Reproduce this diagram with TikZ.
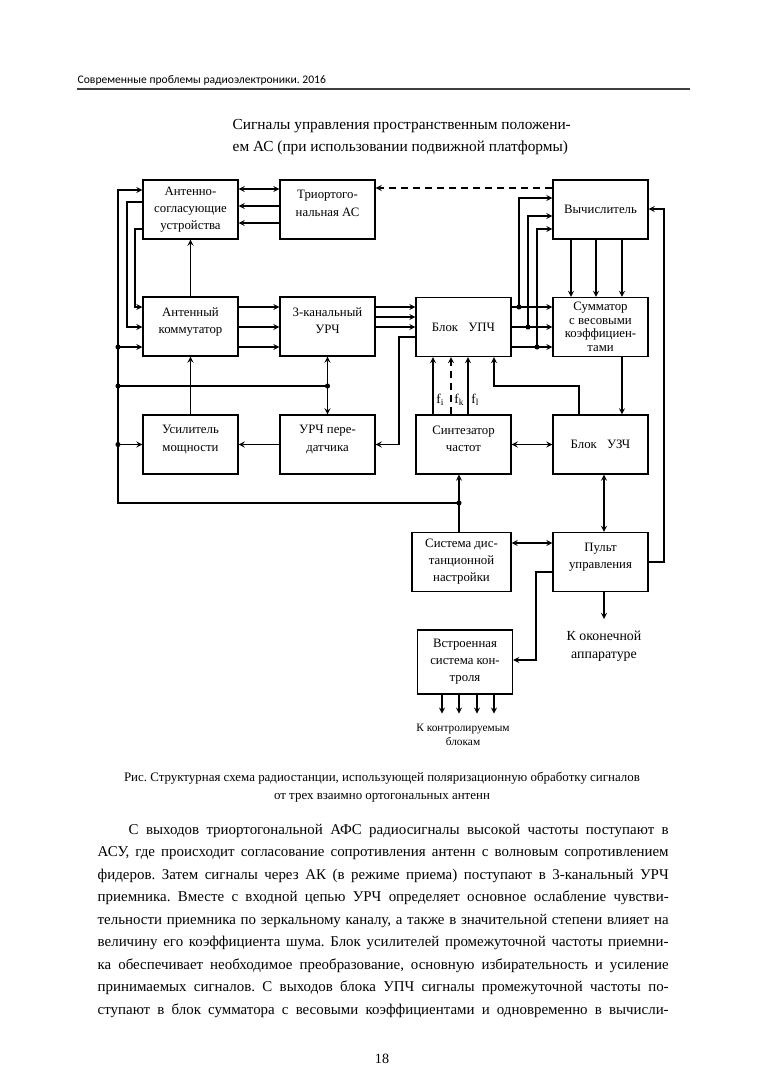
\documentclass[tikz,border=0pt]{standalone}
\usepackage{fontspec}
\setmainfont{Liberation Serif}
\newfontfamily\hdrfont{Carlito}
\frenchspacing
\newcommand{\liftup}{\\[-3.5pt]\mbox{}}

\tikzset{
  blk/.style={draw, minimum width=71pt, minimum height=44pt, align=center,
    inner sep=1pt, font=\fontsize{9.6}{12.8}\selectfont},
  flab/.style={right, inner sep=2pt, font=\fontsize{10}{12}\selectfont},
  dsh/.style={dash pattern=on 5.5pt off 3.5pt},
  bodyln/.style={anchor=base west, inner sep=0pt, font=\fontsize{11.2}{12}\selectfont},
}

\begin{document}
\begin{tikzpicture}[x=0.75pt, y=-0.75pt, >=stealth, line width=1.05pt]
    \useasboundingbox (0,0) rectangle (764,1080);
    \fill[white] (0,0) rectangle (764,1080);

    % header
    \node[anchor=base west, inner sep=0pt, font=\hdrfont\fontsize{8.7}{10}\selectfont] (hdr) at (77,84)
        {Современные проблемы радиоэлектроники. 2016};
    \draw[line width=0.8pt, black!75] (77,89) -- (690,89);

    \node[anchor=base west, inner sep=0pt, font=\fontsize{11.5}{14}\selectfont] (ctrl1) at (232,130)
        {Сигналы управления пространственным положени-};
    \node[anchor=base west, inner sep=0pt, font=\fontsize{11.5}{14}\selectfont] (ctrl2) at (232,152)
        {ем АС (при использовании подвижной платформы)};

    % blocks
    \node[blk] (asu)  at (190.5,209.5) {Антенно-\\согласующие\\устройства};
    \node[blk] (tri)  at (327.5,209.5) {Триортого-\\нальная АС\liftup};
    \node[blk] (vych) at (600.5,209.5) {Вычислитель};
    \node[blk] (ak)   at (190.5,326.5) {Антенный\\коммутатор\liftup};
    \node[blk] (urch) at (327.5,326.5) {3-канальный\\УРЧ\liftup};
    \node[blk] (upch) at (463.5,327)   {Блок\hspace{0.8em}УПЧ};
    \node[blk, font=\fontsize{9.6}{10.2}\selectfont] (summ) at (600.5,327)
        {Сумматор\\с весовыми\\коэффициен-\\тами};
    \node[blk] (usil)  at (190.5,444.5) {Усилитель\\мощности\liftup};
    \node[blk] (urchp) at (327.5,444.5) {УРЧ пере-\\датчика\liftup};
    \node[blk] (sint)  at (463.5,444.5) {Синтезатор\\частот\liftup};
    \node[blk] (uzch)  at (600.5,444.5) {Блок\hspace{0.8em}УЗЧ};
    \node[blk, minimum width=74pt] (sdn) at (461.5,562) {Система дис-\\танционной\\настройки};
    \node[blk] (pult)  at (600.5,562) {Пульт\\управления\liftup};
    \node[blk, minimum height=48pt] (vsk) at (465,662) {Встроенная\\система кон-\\троля};

    % junctions
    \coordinate (jA) at (118,347);
    \coordinate (jB) at (118,386);
    \coordinate (jC) at (118,444.5);
    \coordinate (jD) at (urch.south |- 0,386);
    \coordinate (jE) at (459,503);

    % antenna side
    \draw[<->] (asu.east |- 0,189) -- (tri.west |- 0,189);
    \draw[<-] (asu.east |- 0,206) -- (tri.west |- 0,206);
    \draw[<-] (asu.east |- 0,223) -- (tri.west |- 0,223);
    \draw[->, dsh] (vych.west |- 0,188) -- (tri.east |- 0,188);
    \draw[->] (ak.north) -- (asu.south);

    \draw[->] (jE) -| (118,190) -- (asu.west |- 0,190);
    \draw[->] (asu.west |- 0,202) -| (127,327) -- (ak.west |- 0,327);
    \draw[->] (asu.west |- 0,229) -| (135,307) -- (ak.west |- 0,307);
    \draw[->] (jA) -- (ak.west |- jA);
    \draw (jB) -- (jD);
    \draw[->] (jC) -- (usil.west |- jC);

    \foreach \y in {307,327,347}
        \draw[->] (ak.east |- 0,\y) -- (urch.west |- 0,\y);
    \foreach \y in {307,317,327}
        \draw[->] (urch.east |- 0,\y) -- (upch.west |- 0,\y);

    % transmitter
    \draw[->] (upch.west |- 0,337) -| (399,444.5) -- (urchp.east);
    \draw[->] (urchp.west) -- (usil.east);
    \draw[->] (usil.north) -- (ak.south);
    \draw[<->] (urch.south) -- (urchp.north);

    % IF outputs
    \foreach \y/\x/\t [count=\i] in {307/519/198, 327/528/216, 347/537/229} {
        \coordinate (jU\i) at (\x,\y);
        \draw[->] (upch.east |- jU\i) -- (summ.west |- jU\i);
        \draw[->] (jU\i) |- (vych.west |- 0,\t);
    }
    \foreach \x in {571,596,622}
        \draw[->] (vych.south -| \x,0) -- (summ.north -| \x,0);
    \draw[->] (summ.south -| 622,0) -- (uzch.north -| 622,0);

    % synthesizer
    \draw[->] (sint.north -| 433,0) -- node[flab, pos=0.25] (fi) {f\textsubscript{i}} (upch.south -| 433,0);
    \draw[->, dsh] (sint.north -| 451,0) -- node[flab, pos=0.25] (fk) {f\textsubscript{k}} (upch.south -| 451,0);
    \draw[->] (sint.north -| 468,0) -- node[flab, pos=0.25] (fl) {f\textsubscript{l}} (upch.south -| 468,0);
    \draw[->] (uzch.north -| 579,0) |- (494,386) -- (upch.south -| 494,0);
    \draw[<->] (sint.east) -- (uzch.west);
    \draw[->] (sdn.north -| jE) -- (sint.south -| jE);

    % control
    \draw[<->] (uzch.south -| 604,0) -- (pult.north -| 604,0);
    \draw[<->] (sdn.east |- 0,543) -- (pult.west |- 0,543);
    \draw[->] (pult.east) -| (664,209) -- (vych.east |- 0,209);
    \draw[->] (pult.west |- 0,572) -| (536,660) -- (vsk.east |- 0,660);

    \coordinate (kout) at (604,619);
    \draw[->] (pult.south -| kout) -- (kout);
    \node[anchor=north, align=center, inner sep=0pt, font=\fontsize{10.4}{13.5}\selectfont] (kapp)
        at (604,630) {К оконечной\\аппаратуре};

    \foreach \x in {442,459,477,494}
        \draw[->] (vsk.south -| \x,0) -- ++(0,19);
    \node[anchor=north, align=center, inner sep=0pt, font=\fontsize{8.5}{10.5}\selectfont] (kbl)
        at (463,723) {К контролируемым\\блокам};

    \foreach \p in {jA,jB,jC,jD,jE,jU1,jU2,jU3}
        \fill (\p) circle (1.9pt);

    % caption
    \node[anchor=base, inner sep=0pt, font=\fontsize{9.7}{12}\selectfont] (cap1) at (382,781)
        {Рис. Структурная схема радиостанции, использующей поляризационную обработку сигналов};
    \node[anchor=base, inner sep=0pt, font=\fontsize{9.7}{12}\selectfont] (cap2) at (382,799)
        {от трех взаимно ортогональных антенн};

    % text
    \node[bodyln] (body1) at (128,834)
        {\makebox[405pt][s]{С выходов триортогональной АФС радиосигналы высокой частоты поступают в}};
    \foreach \ln [count=\i from 2] in {
        {АСУ, где происходит согласование сопротивления антенн с волновым сопротивлением},
        {фидеров. Затем сигналы через АК (в режиме приема) поступают в 3-канальный УРЧ},
        {приемника. Вместе с входной цепью УРЧ определяет основное ослабление чувстви-},
        {тельности приемника по зеркальному каналу, а также в значительной степени влияет на},
        {величину его коэффициента шума. Блок усилителей промежуточной частоты приемни-},
        {ка обеспечивает необходимое преобразование, основную избирательность и усиление},
        {принимаемых сигналов. С выходов блока УПЧ сигналы промежуточной частоты по-},
        {ступают в блок сумматора с весовыми коэффициентами и одновременно в вычисли-}}
        \node[bodyln] (body\i) at (97,811.5+22.5*\i) {\makebox[428.25pt][s]{\ln}};

    \node[anchor=base, inner sep=0pt, font=\fontsize{10.6}{12}\selectfont] (pgno) at (382,1063) {18};
\end{tikzpicture}
\end{document}
